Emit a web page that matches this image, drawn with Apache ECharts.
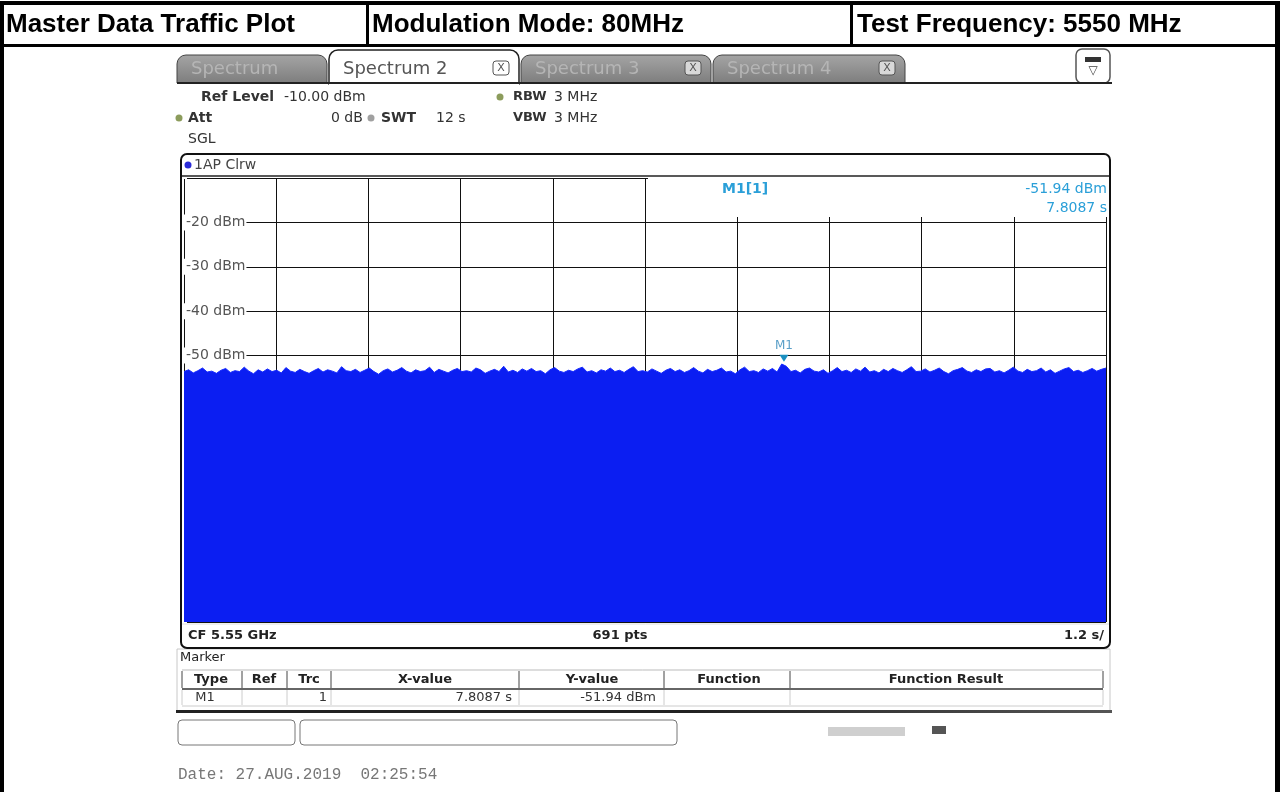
<!DOCTYPE html>
<html>
<head>
<meta charset="utf-8">
<script src="https://cdn.jsdelivr.net/npm/echarts@6/dist/echarts.min.js"></script>
<style>
html,body{margin:0;padding:0;background:#fff;}
#chart{width:1280px;height:792px;}
</style>
</head>
<body>
<div id="chart"></div>
<script>
// ---- data ----
const headerTitles = ['Master Data Traffic Plot', 'Modulation Mode: 80MHz', 'Test Frequency: 5550 MHz'];
const tabNames = ['Spectrum', 'Spectrum 2', 'Spectrum 3', 'Spectrum 4'];
const sweepTime = 12;          // s, 1.2 s/div
const yMin = -110, yMax = -10, yStep = 10;
const shownTickLabels = [-20, -30, -40, -50];
const markerX = 7.8087;        // s
const markerY = -51.94;        // dBm
const traceValues = [
-53.6,-53.2,-53.9,-53.4,-52.8,-53.7,-53.5,-54.0,-53.3,-52.9,
-53.8,-53.4,-53.6,-52.6,-53.5,-54.1,-53.2,-53.7,-53.0,-53.6,
-53.3,-53.9,-52.7,-53.5,-53.8,-53.1,-53.6,-54.0,-53.4,-52.9,
-53.7,-53.2,-53.5,-53.9,-52.5,-53.4,-53.6,-53.1,-53.8,-53.3,
-52.8,-53.6,-54.2,-53.4,-53.0,-53.7,-53.3,-52.7,-53.5,-53.9,
-53.2,-53.6,-53.4,-52.6,-53.8,-53.1,-53.5,-53.9,-53.3,-52.9,
-53.6,-53.4,-53.7,-52.8,-53.2,-54.0,-53.5,-53.1,-53.6,-52.4,
-53.7,-53.3,-53.8,-53.0,-53.5,-52.9,-53.6,-53.4,-54.1,-53.2,
-52.7,-53.5,-53.8,-53.3,-53.6,-53.0,-52.6,-53.7,-53.4,-53.9,
-53.2,-53.5,-52.8,-53.6,-53.3,-53.8,-53.1,-52.5,-53.6,-53.4,
-53.7,-53.0,-53.5,-54.0,-53.3,-52.9,-53.6,-53.2,-53.8,-53.4,
-52.7,-53.5,-53.9,-53.1,-53.6,-53.3,-52.8,-53.7,-53.5,-54.1,
-53.2,-52.6,-53.6,-53.4,-53.8,-53.0,-53.5,-52.9,-53.7,-51.9,
-52.4,-53.6,-53.3,-53.9,-53.1,-52.8,-53.5,-53.7,-53.2,-54.0,
-53.4,-52.7,-53.6,-53.3,-53.8,-53.0,-53.5,-52.6,-53.7,-53.4,
-53.9,-53.1,-53.6,-52.9,-53.4,-53.8,-53.2,-52.5,-53.6,-53.5,
-53.0,-53.7,-53.3,-52.8,-53.6,-54.1,-53.4,-53.1,-52.7,-53.5,
-53.8,-53.2,-53.6,-53.0,-52.9,-53.7,-53.4,-53.9,-53.3,-52.6,
-53.5,-53.8,-53.1,-53.6,-53.4,-52.8,-53.7,-53.2,-54.0,-53.5,
-53.0,-52.7,-53.6,-53.3,-53.8,-53.4,-52.9,-53.5,-53.1,-52.8
];
const tableHeaders = ['Type', 'Ref', 'Trc', 'X-value', 'Y-value', 'Function', 'Function Result'];
const tableRow = ['M1', '', '1', '7.8087 s', '-51.94 dBm', '', ''];

// ---- build ----
const chart = echarts.init(document.getElementById('chart'), null, {renderer: 'canvas'});
const traceData = traceValues.map((v, i) => [i * sweepTime / (traceValues.length - 1), v]);

const SANS = 'DejaVu Sans';
const g = [];
function txt(x, y, s, o) {
  g.push(Object.assign({type: 'text', x: x, y: y, z: 50,
    style: Object.assign({text: s, fill: '#333', font: '14px ' + SANS, textAlign: 'left', textVerticalAlign: 'middle'}, o || {})}));
}
function rect(x, y, w, h, st, r, z) {
  g.push({type: 'rect', z: z == null ? 10 : z, shape: {x: x, y: y, width: w, height: h, r: r || 0}, style: st});
}
function line(x1, y1, x2, y2, st, z) {
  g.push({type: 'line', z: z == null ? 20 : z, shape: {x1: x1, y1: y1, x2: x2, y2: y2}, style: st});
}

// outer frame / header
rect(0, 1, 1280, 4, {fill: '#000'});
rect(0, 1, 4, 791, {fill: '#000'});
rect(1275, 1, 5, 791, {fill: '#000'});
rect(0, 44, 1280, 3, {fill: '#000'});
rect(366, 4, 3, 42, {fill: '#000'});
rect(850, 4, 3, 42, {fill: '#000'});
const hx = [6, 372, 857];
headerTitles.forEach((t, i) => txt(hx[i], 25, t, {font: 'bold 26px "Liberation Sans", Arial', fill: '#000'}));

// tabs
const tabs = [[177, 327], [329, 519], [521, 711], [713, 905]];
line(177, 83, 1112, 83, {stroke: '#222', lineWidth: 2});
tabs.forEach((t, i) => {
  const active = i === 1;
  rect(t[0], active ? 50 : 55, t[1] - t[0], active ? 34 : 28,
    active ? {fill: '#fff', stroke: '#222', lineWidth: 1.5}
           : {fill: new echarts.graphic.LinearGradient(0, 0, 0, 1, [{offset: 0, color: '#a5a5a5'}, {offset: 1, color: '#7d7d7d'}]), stroke: '#444', lineWidth: 1},
    [9, 9, 0, 0], active ? 12 : 11);
  txt(t[0] + 14, 69, tabNames[i], {font: '18px ' + SANS, fill: active ? '#555' : '#b5b5b5'});
  if (i > 0) {
    rect(t[1] - 26, 61, 16, 14, {fill: active ? '#fff' : '#d8d8d8', stroke: '#555', lineWidth: 1}, 3, 13);
    txt(t[1] - 18, 68, 'X', {font: '11px ' + SANS, fill: '#555', textAlign: 'center'});
  }
});
rect(329, 82, 190, 4, {fill: '#fff'}, 0, 14);
// top-right icon
rect(1076, 49, 34, 34, {fill: '#fff', stroke: '#555', lineWidth: 1.5}, 6, 12);
rect(1085, 57, 16, 5, {fill: '#333'}, 0, 13);
txt(1093, 71, '\u25BD', {font: '12px ' + SANS, fill: '#444', textAlign: 'center'});

// info block
const dot = (x, y, c) => g.push({type: 'circle', z: 30, shape: {cx: x, cy: y, r: 3.5}, style: {fill: c}});
const B = 'bold 14px ' + SANS;
txt(201, 97, 'Ref Level', {font: B});
txt(284, 97, '-10.00 dBm');
dot(500, 97, '#8c9c5c'); txt(513, 97, 'RBW', {font: 'bold 13px ' + SANS}); txt(554, 97, '3 MHz');
dot(179, 118, '#8c9c5c'); txt(188, 118, 'Att', {font: B});
txt(331, 118, '0 dB'); dot(371, 118, '#a0a0a0');
txt(381, 118, 'SWT', {font: B}); txt(436, 118, '12 s');
txt(513, 118, 'VBW', {font: 'bold 13px ' + SANS}); txt(554, 118, '3 MHz');
txt(188, 139, 'SGL');

// diagram frame
rect(181, 154, 929, 494, {fill: 'none', stroke: '#111', lineWidth: 2}, 6, 40);
line(182, 176, 1109, 176, {stroke: '#222', lineWidth: 1.5}, 40);
dot(188, 165, '#2a2ad8');
txt(194, 165, '1AP Clrw', {font: '14px ' + SANS, fill: '#444'});
line(182, 624, 1109, 624, {stroke: '#ddd', lineWidth: 1}, 5);
txt(188, 636, 'CF 5.55 GHz', {font: 'bold 13px ' + SANS, fill: '#222'});
txt(620, 636, '691 pts', {font: 'bold 13px ' + SANS, fill: '#222', textAlign: 'center'});
txt(1104, 636, '1.2 s/', {font: 'bold 13px ' + SANS, fill: '#222', textAlign: 'right'});

// marker readout
rect(648, 178, 459, 39, {fill: '#fff'}, 0, 30);
txt(722, 189, 'M1[1]', {font: 'bold 14px ' + SANS, fill: '#2a9fd8'});
txt(1107, 189, '-51.94 dBm', {font: '14px ' + SANS, fill: '#2a9fd8', textAlign: 'right'});
txt(1107, 208, '7.8087 s', {font: '14px ' + SANS, fill: '#2a9fd8', textAlign: 'right'});

// marker table panel
rect(177, 649, 933, 63, {fill: '#fff', stroke: '#c8c8c8', lineWidth: 1}, 0, 8);
txt(180, 658, 'Marker', {font: '13px ' + SANS, fill: '#222'});
line(182, 670, 1103, 670, {stroke: '#bbb', lineWidth: 1});
line(182, 689, 1103, 689, {stroke: '#333', lineWidth: 1.5});
line(182, 706, 1103, 706, {stroke: '#ccc', lineWidth: 1});
const colX = [182, 242, 287, 331, 519, 664, 790, 1103];
colX.forEach((x, i) => {
  line(x, 671, x, 688, {stroke: '#444', lineWidth: 1});
  line(x, 690, x, 705, {stroke: '#ccc', lineWidth: 1});
});
const hc = [211, 264, 309, 425, 592, 729, 946];
tableHeaders.forEach((h, i) => txt(hc[i], 680, h, {font: 'bold 13px ' + SANS, fill: '#222', textAlign: 'center'}));
txt(205, 698, tableRow[0], {font: '13px ' + SANS, fill: '#333', textAlign: 'center'});
txt(327, 698, tableRow[2], {font: '13px ' + SANS, fill: '#333', textAlign: 'right'});
txt(512, 698, tableRow[3], {font: '13px ' + SANS, fill: '#333', textAlign: 'right'});
txt(656, 698, tableRow[4], {font: '13px ' + SANS, fill: '#333', textAlign: 'right'});
rect(176, 710, 936, 3, {fill: new echarts.graphic.LinearGradient(0, 0, 1, 0, [{offset: 0, color: '#222'}, {offset: 0.55, color: '#222'}, {offset: 1, color: '#555'}])}, 0, 20);

// status boxes
rect(178, 720, 117, 25, {fill: '#fff', stroke: '#777', lineWidth: 1}, 4, 10);
rect(300, 720, 377, 25, {fill: '#fff', stroke: '#777', lineWidth: 1}, 4, 10);
rect(828, 727, 77, 9, {fill: '#cfcfcf'}, 0, 10);
rect(932, 726, 14, 8, {fill: '#555'}, 0, 10);
txt(178, 775, 'Date: 27.AUG.2019  02:25:54', {font: '16px "Liberation Mono", monospace', fill: '#777'});

const option = {
  animation: false,
  backgroundColor: '#fff',
  grid: {left: 184, top: 178, width: 922, height: 444, containLabel: false},
  xAxis: {
    type: 'value', min: 0, max: sweepTime, interval: sweepTime / 10,
    axisLine: {show: false}, axisTick: {show: false}, axisLabel: {show: false},
    splitLine: {show: true, lineStyle: {color: '#111', width: 1}}
  },
  yAxis: {
    type: 'value', min: yMin, max: yMax, interval: yStep,
    axisLine: {show: false}, axisTick: {show: false},
    splitLine: {show: true, lineStyle: {color: '#111', width: 1}},
    axisLabel: {
      inside: true, margin: 0, color: '#555', fontSize: 14, fontFamily: SANS,
      backgroundColor: '#fff', padding: [1, 1, 1, 2],
      formatter: v => shownTickLabels.indexOf(v) >= 0 ? v + ' dBm' : ''
    }
  },
  series: [{
    type: 'line', data: traceData, symbol: 'none', z: 3,
    lineStyle: {color: '#1428ff', width: 1},
    areaStyle: {color: '#0b1ef2', opacity: 1, origin: 'start'},
    markPoint: {
      symbol: 'triangle', symbolSize: [9, 7], symbolRotate: 180, symbolOffset: [0, -6],
      itemStyle: {color: '#1a8fc0'},
      label: {show: true, position: 'top', formatter: 'M1', color: '#5a9fc8', fontSize: 12, fontFamily: SANS, distance: 3},
      data: [{coord: [markerX, markerY]}]
    }
  }],
  graphic: {elements: g}
};
chart.setOption(option);
</script>
</body>
</html>
